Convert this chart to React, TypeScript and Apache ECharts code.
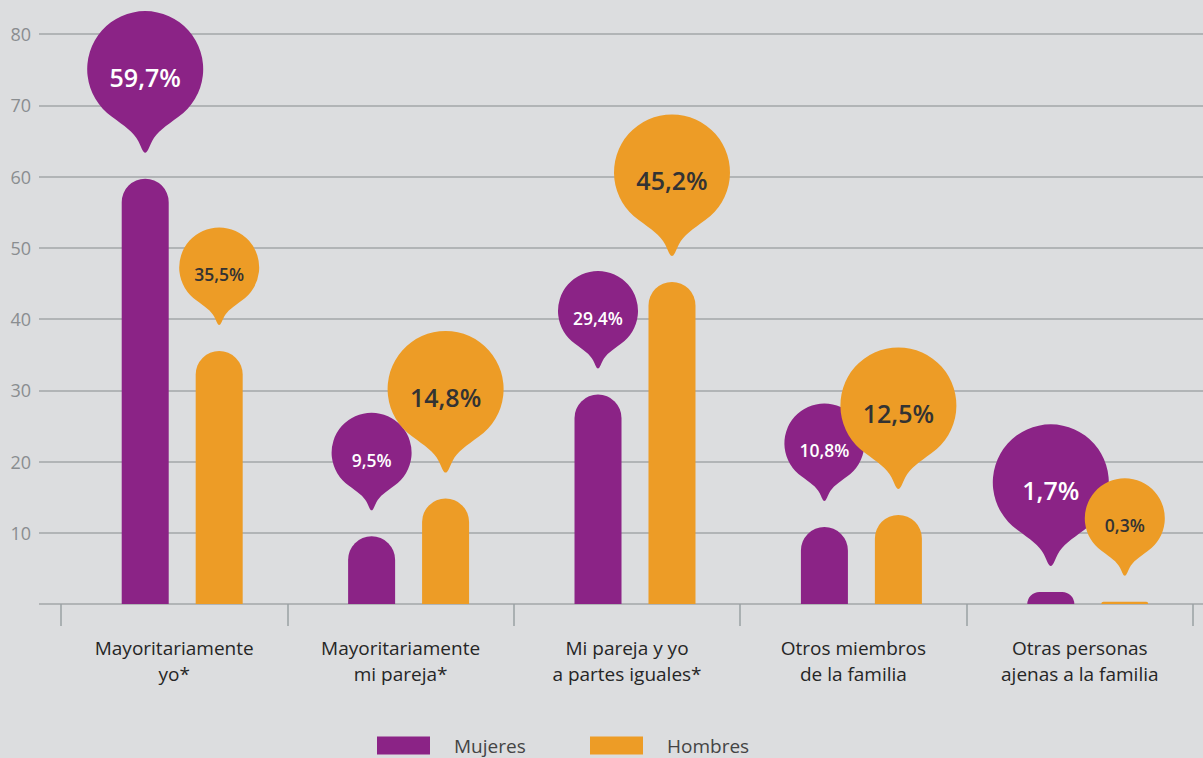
import React, { useEffect, useRef } from "react";
import * as echarts from "echarts";

const categories = [
  "Mayoritariamente\nyo*",
  "Mayoritariamente\nmi pareja*",
  "Mi pareja y yo\na partes iguales*",
  "Otros miembros\nde la familia",
  "Otras personas\najenas a la familia",
];
const mujeres = [59.7, 9.5, 29.4, 10.8, 1.7];
const hombres = [35.5, 14.8, 45.2, 12.5, 0.3];
const seriesNames = ["Mujeres", "Hombres"];
const yMin = 0;
const yMax = 80;
const yInterval = 10;

const PURPLE = "#8b2386";
const ORANGE = "#ed9c26";
const BG = "#dcdddf";
const FONT = "'Open Sans', 'Noto Sans', sans-serif";

const BALLOON =
  "path://M21.3 91 A50 50 0 1 1 78.7 91 C68 99 60 104 56 112 C53 118 52 122 50 122 C48 122 47 118 44 112 C40 104 32 99 21.3 91 Z";

function fmt(v: number) {
  return v.toFixed(1).replace(".", ",") + "%";
}

function balloonData(values: number[], others: number[], side: number) {
  return values.map((v, i) => {
    const big = v > others[i];
    const w = big ? 116 : 80;
    const h = w * 1.22;
    return {
      value: v,
      symbolSize: [w, h],
      symbolOffset: [side * 37, -(h / 2 + 26)],
      label: { fontSize: big ? 25 : 17.5, offset: [0, big ? -5 : -2] },
    };
  });
}

export default function App() {
  const ref = useRef<HTMLDivElement>(null);
  useEffect(() => {
    if (!ref.current) return;
    const chart = echarts.init(ref.current, null, { renderer: "svg" });
    const gTop = 34;
    const gBottom = 154;
    const legendText = {
      fontSize: 19,
      color: "#444",
      fontFamily: FONT,
      padding: [0, 0, 0, 19],
    };
    chart.setOption({
      animation: false,
      backgroundColor: BG,
      textStyle: { fontFamily: FONT },
      grid: [
        { left: 39, right: 0, top: gTop, bottom: gBottom },
        { left: 61, right: 10, top: gTop, bottom: gBottom },
        { left: 69, right: 2, top: gTop, bottom: gBottom },
      ],
      xAxis: [
        { type: "value", gridIndex: 0, show: false, min: 0, max: 1 },
        {
          type: "category",
          gridIndex: 1,
          data: categories,
          boundaryGap: true,
          axisLine: { show: false },
          axisTick: {
            show: true,
            length: 22,
            lineStyle: { color: "#9aa0a3", width: 1.5 },
          },
          axisLabel: {
            margin: 31,
            fontSize: 19,
            lineHeight: 26,
            color: "#262626",
            fontFamily: FONT,
          },
        },
        { type: "category", gridIndex: 2, data: categories, show: false },
      ],
      yAxis: [
        {
          type: "value",
          gridIndex: 0,
          min: yMin,
          max: yMax,
          interval: yInterval,
          axisLine: { show: false },
          axisTick: { show: false },
          splitLine: { show: true, lineStyle: { color: "#a3a6a9", width: 1.5 } },
          axisLabel: {
            margin: 8,
            fontSize: 18,
            color: "#8a8d90",
            fontFamily: FONT,
            formatter: (v: number) => (v === 0 ? "" : String(v)),
          },
        },
        { type: "value", gridIndex: 1, min: yMin, max: yMax, show: false },
        { type: "value", gridIndex: 2, min: yMin, max: yMax, show: false },
      ],
      legend: [
        {
          data: [seriesNames[0]],
          left: 377,
          top: 736,
          padding: 0,
          icon: "rect",
          itemWidth: 53,
          itemHeight: 18,
          selectedMode: false,
          textStyle: legendText,
        },
        {
          data: [seriesNames[1]],
          left: 590,
          top: 736,
          padding: 0,
          icon: "rect",
          itemWidth: 53,
          itemHeight: 18,
          selectedMode: false,
          textStyle: legendText,
        },
      ],
      series: [
        {
          name: seriesNames[0],
          type: "bar",
          xAxisIndex: 2,
          yAxisIndex: 2,
          data: mujeres,
          barWidth: 47,
          barGap: "57.4%",
          itemStyle: { color: PURPLE, borderRadius: [23.5, 23.5, 0, 0] },
        },
        {
          name: seriesNames[1],
          type: "bar",
          xAxisIndex: 2,
          yAxisIndex: 2,
          data: hombres,
          barWidth: 47,
          barGap: "57.4%",
          itemStyle: { color: ORANGE, borderRadius: [23.5, 23.5, 0, 0] },
        },
        {
          name: "Mujeres etiqueta",
          type: "scatter",
          xAxisIndex: 2,
          yAxisIndex: 2,
          clip: false,
          symbol: BALLOON,
          itemStyle: { color: PURPLE, opacity: 1 },
          data: balloonData(mujeres, hombres, -1),
          label: {
            show: true,
            position: "inside",
            color: "#ffffff",
            fontWeight: 600,
            fontFamily: FONT,
            formatter: (p: any) => fmt(p.value),
          },
          z: 5,
        },
        {
          name: "Hombres etiqueta",
          type: "scatter",
          xAxisIndex: 2,
          yAxisIndex: 2,
          clip: false,
          symbol: BALLOON,
          itemStyle: { color: ORANGE, opacity: 1 },
          data: balloonData(hombres, mujeres, 1),
          label: {
            show: true,
            position: "inside",
            color: "#333333",
            fontWeight: 600,
            fontFamily: FONT,
            formatter: (p: any) => fmt(p.value),
          },
          z: 6,
        },
      ],
    });
    return () => chart.dispose();
  }, []);
  return (
    <div
      ref={ref}
      style={{ position: "fixed", left: 0, top: 0, width: 1203, height: 758 }}
    />
  );
}
